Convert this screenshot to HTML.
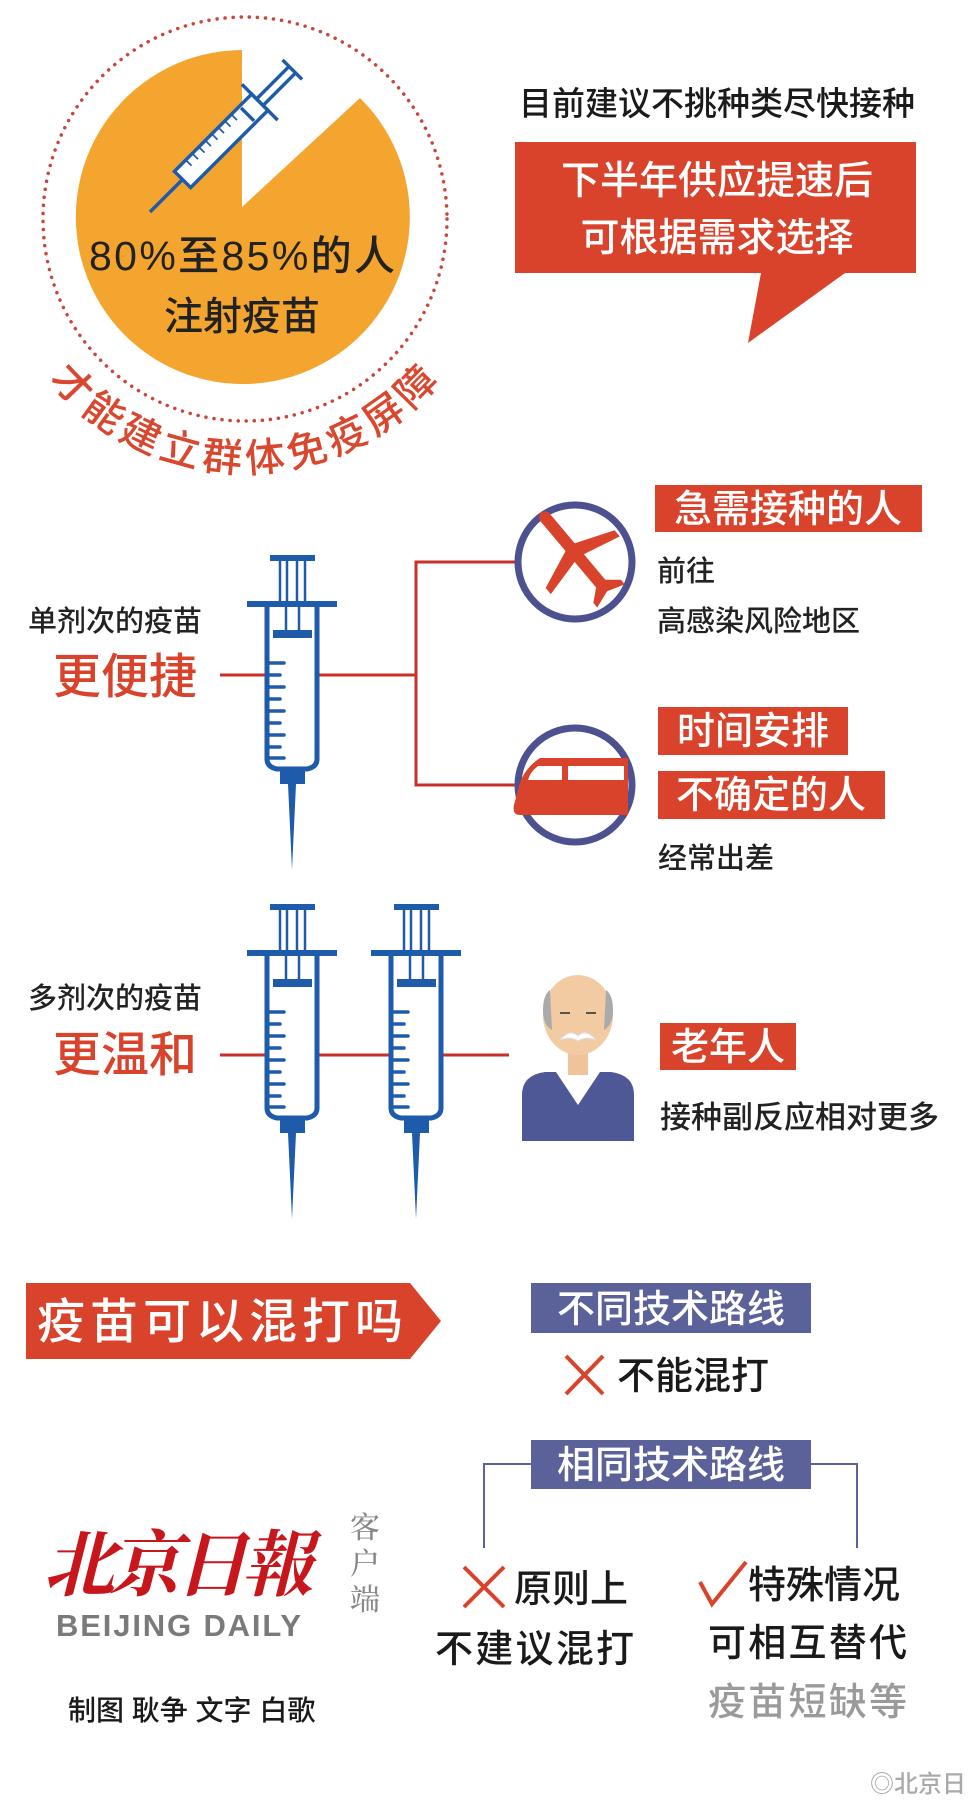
<!DOCTYPE html>
<html><head><meta charset="utf-8"><style>
body{margin:0;background:#fff;}
svg text{font-family:"Liberation Sans","Noto Sans CJK SC",sans-serif;font-weight:500;}
</style></head><body>
<svg width="969" height="1797" viewBox="0 0 969 1797" xmlns="http://www.w3.org/2000/svg">
<defs>
<g id="syr" fill="#1f5bab" stroke="#1f5bab">
<rect x="-22" y="0" width="45" height="6" stroke="none"/>
<g stroke-width="2.5"><line x1="-12" y1="6" x2="-12" y2="46"/><line x1="-5" y1="6" x2="-5" y2="46"/><line x1="5" y1="6" x2="5" y2="46"/><line x1="13" y1="6" x2="13" y2="46"/>
<line x1="-6" y1="52" x2="-6" y2="75"/><line x1="7" y1="52" x2="7" y2="75"/></g>
<rect x="-45" y="46" width="90" height="6" stroke="none"/>
<rect x="-19" y="75" width="39" height="8" stroke="none"/>
<path d="M-25,52 V204 Q-25,212 -15,214 L15,214 Q25,212 25,204 V52" fill="none" stroke-width="5"/>
<g stroke-width="3.5" stroke-linecap="round">
<line x1="-23" y1="108" x2="-8" y2="108"/><line x1="-23" y1="120" x2="-12" y2="120"/><line x1="-23" y1="132" x2="-8" y2="132"/><line x1="-23" y1="144" x2="-12" y2="144"/><line x1="-23" y1="156" x2="-8" y2="156"/><line x1="-23" y1="168" x2="-12" y2="168"/><line x1="-23" y1="180" x2="-8" y2="180"/><line x1="-23" y1="192" x2="-12" y2="192"/><line x1="-23" y1="203" x2="-8" y2="203"/></g>
<rect x="-12" y="214" width="25" height="15" stroke="none"/>
<polygon points="-4,229 4,229 0,315" stroke="none"/>
</g>
</defs>

<circle cx="245" cy="219" r="202" fill="none" stroke="#c9463a" stroke-width="3.5" stroke-dasharray="0.1 8" stroke-linecap="round"/>
<path d="M242,50 L242,207 L360,98 A167,167 0 1 1 242,50 Z" fill="#f3a530"/>
<g transform="translate(150,212) rotate(45) scale(1.15)" fill="none" stroke="#1f5bab" stroke-width="3">
<line x1="0" y1="0" x2="0" y2="-40"/>
<rect x="-10" y="-135" width="20" height="95" fill="#fff"/>
<line x1="-22" y1="-135" x2="22" y2="-135"/>
<line x1="-4" y1="-135" x2="-4" y2="-175"/><line x1="4" y1="-135" x2="4" y2="-175"/>
<line x1="-12" y1="-175" x2="12" y2="-175"/>
<line x1="-8" y1="-120" x2="8" y2="-120"/>
<g stroke-width="1.5"><line x1="-10" y1="-110" x2="-3" y2="-110"/><line x1="-10" y1="-102" x2="-3" y2="-102"/><line x1="-10" y1="-94" x2="-3" y2="-94"/><line x1="-10" y1="-86" x2="-3" y2="-86"/><line x1="-10" y1="-78" x2="-3" y2="-78"/><line x1="-10" y1="-70" x2="-3" y2="-70"/><line x1="-10" y1="-62" x2="-3" y2="-62"/><line x1="-10" y1="-54" x2="-3" y2="-54"/></g>
</g>
<text x="242" y="270" font-size="41" text-anchor="middle" fill="#222" textLength="306">80%至85%的人</text>
<text x="242" y="330" font-size="39" text-anchor="middle" fill="#222">注射疫苗</text>
<path id="arc" d="M46,376 A254,254 0 0 0 444,376" fill="none"/>
<text font-size="40" fill="#d9472f"><textPath href="#arc" startOffset="1%" textLength="445">才能建立群体免疫屏障</textPath></text>

<text x="717" y="115" font-size="33" text-anchor="middle" fill="#1a1a1a">目前建议不挑种类尽快接种</text>
<path d="M515,142 H916 V273 H845 L748,343 L761,273 H515 Z" fill="#d9432b"/>
<text x="717" y="194" font-size="39" text-anchor="middle" fill="#fff">下半年供应提速后</text>
<text x="717" y="251" font-size="39" text-anchor="middle" fill="#fff">可根据需求选择</text>

<g stroke="#c8302a" stroke-width="3" fill="none">
<line x1="220" y1="675" x2="267" y2="675"/>
<line x1="318" y1="675" x2="416" y2="675"/>
<polyline points="515,562 416,562 416,785 515,785"/>
<line x1="220" y1="1055" x2="267" y2="1055"/>
<line x1="318" y1="1055" x2="391" y2="1055"/>
<line x1="442" y1="1055" x2="509" y2="1055"/>
</g>
<use href="#syr" transform="translate(292,555)"/>
<text x="28" y="631" font-size="29" fill="#222">单剂次的疫苗</text>
<text x="53" y="693" font-size="48" fill="#d9432b">更便捷</text>

<circle cx="575" cy="562" r="57" fill="#fff" stroke="#4d5190" stroke-width="7"/>
<g transform="translate(575,553) rotate(-40)" fill="#d9432b">
<path d="M-6,-48 Q0,-58 6,-48 L6,40 L18,50 L18,56 L0,50 L-18,56 L-18,50 L-6,40 Z"/>
<path d="M-5,-12 L45,8 L45,16 L-5,4 Z M5,-12 L-45,8 L-45,16 L5,4 Z"/>
</g>
<circle cx="575" cy="785" r="57" fill="#fff" stroke="#4d5190" stroke-width="7"/>
<path d="M540,758 H628 V815 H520 Q512,815 514,805 L518,790 Q522,770 540,758 Z" fill="#d9432b"/>
<path d="M538,766 H562 V780 H528 Q530,772 538,766 Z M568,766 H624 V780 H568 Z" fill="#fff"/>

<rect x="655" y="485" width="267" height="47" fill="#d9432b"/>
<text x="788" y="522" font-size="38" text-anchor="middle" fill="#fff">急需接种的人</text>
<text x="657" y="581" font-size="29" fill="#222">前往</text>
<text x="657" y="631" font-size="29" fill="#222">高感染风险地区</text>
<rect x="658" y="707" width="190" height="48" fill="#d9432b"/>
<text x="753" y="744" font-size="38" text-anchor="middle" fill="#fff">时间安排</text>
<rect x="658" y="771" width="227" height="48" fill="#d9432b"/>
<text x="771" y="808" font-size="38" text-anchor="middle" fill="#fff">不确定的人</text>
<text x="658" y="868" font-size="29" fill="#222">经常出差</text>

<use href="#syr" transform="translate(292,904)"/>
<use href="#syr" transform="translate(416,904)"/>
<text x="28" y="1008" font-size="29" fill="#222">多剂次的疫苗</text>
<text x="53" y="1071" font-size="48" fill="#d9432b">更温和</text>

<path d="M522,1095 Q522,1075 545,1072 L611,1072 Q634,1075 634,1095 V1141 H522 Z" fill="#4f5896"/>
<path d="M556,1072 L578,1105 L600,1072 Z" fill="#fff"/>
<rect x="568" y="1050" width="20" height="25" fill="#f0c49a"/>
<ellipse cx="578" cy="1015" rx="35" ry="40" fill="#f3cba3"/>
<path d="M543,1010 Q543,995 550,990 L552,1030 Q543,1025 543,1010 Z M613,1010 Q613,995 606,990 L604,1030 Q613,1025 613,1010 Z" fill="#aaa"/>
<line x1="560" y1="1013" x2="570" y2="1013" stroke="#555" stroke-width="2"/>
<line x1="586" y1="1013" x2="596" y2="1013" stroke="#555" stroke-width="2"/>
<path d="M560,1040 Q570,1028 578,1036 Q586,1028 596,1040 Q586,1036 578,1041 Q570,1036 560,1040 Z" fill="#fff" stroke="#ddd"/>
<rect x="660" y="1023" width="136" height="47" fill="#d9432b"/>
<text x="728" y="1060" font-size="38" text-anchor="middle" fill="#fff">老年人</text>
<text x="660" y="1128" font-size="31" fill="#222">接种副反应相对更多</text>

<path d="M26,1283 H410 L441,1321 L410,1359 H26 Z" fill="#d9432b"/>
<text x="37" y="1338" font-size="48" fill="#fff" textLength="366">疫苗可以混打吗</text>
<rect x="531" y="1283" width="280" height="50" fill="#5b6199"/>
<text x="671" y="1322" font-size="38" text-anchor="middle" fill="#fff">不同技术路线</text>
<g stroke="#d9432b" stroke-width="4"><line x1="566" y1="1356" x2="603" y2="1394"/><line x1="603" y1="1356" x2="566" y2="1394"/></g>
<text x="617" y="1389" font-size="38" fill="#1a1a1a">不能混打</text>

<polyline points="484,1548 484,1464 531,1464" fill="none" stroke="#5b6199" stroke-width="2"/>
<polyline points="811,1464 857,1464 857,1548" fill="none" stroke="#5b6199" stroke-width="2"/>
<rect x="531" y="1440" width="280" height="49" fill="#5b6199"/>
<text x="671" y="1478" font-size="38" text-anchor="middle" fill="#fff">相同技术路线</text>

<g stroke="#d9432b" stroke-width="4"><line x1="464" y1="1567" x2="504" y2="1607"/><line x1="504" y1="1567" x2="464" y2="1607"/></g>
<text x="514" y="1602" font-size="38" fill="#1a1a1a">原则上</text>
<text x="435" y="1662" font-size="38" fill="#1a1a1a" textLength="199">不建议混打</text>
<path d="M700,1582 L712,1604 L746,1562" fill="none" stroke="#d9432b" stroke-width="4"/>
<text x="748" y="1598" font-size="38" fill="#1a1a1a">特殊情况</text>
<text x="708" y="1656" font-size="38" fill="#1a1a1a" textLength="199">可相互替代</text>
<text x="708" y="1715" font-size="38" fill="#9a9a9a" textLength="199">疫苗短缺等</text>

<text x="43" y="1590" style="font-family:'Noto Serif CJK SC','Liberation Serif',serif;font-weight:bold;font-style:italic" font-size="72" fill="#c8161d" textLength="270">北京日報</text>
<text x="365" y="1538" style="font-family:'Noto Serif CJK SC',serif" font-size="30" fill="#888" text-anchor="middle">客</text>
<text x="365" y="1574" style="font-family:'Noto Serif CJK SC',serif" font-size="30" fill="#888" text-anchor="middle">户</text>
<text x="365" y="1610" style="font-family:'Noto Serif CJK SC',serif" font-size="30" fill="#888" text-anchor="middle">端</text>
<text x="56" y="1636" style="font-weight:bold" font-size="31" fill="#7a7a7a" textLength="245">BEIJING DAILY</text>
<text x="68" y="1720" font-size="28" fill="#1a1a1a">制图  耿争   文字  白歌</text>
<text x="870" y="1792" font-size="24" fill="#aaa">◎北京日</text>
</svg>
</body></html>
